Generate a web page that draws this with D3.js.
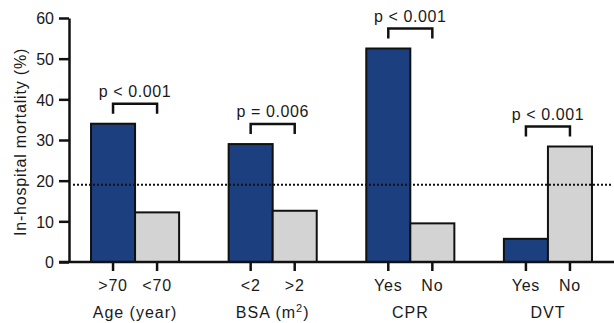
<!DOCTYPE html>
<html>
<head>
<meta charset="utf-8">
<script src="https://cdn.jsdelivr.net/npm/d3@7"></script>
<style>
  body { margin: 0; background: #fff; }
  text { font-family: "Liberation Sans", Arial, sans-serif; fill: #1a1a1a; }
</style>
</head>
<body>
<div id="chart"></div>
<script>
// data
const groups = ["Age (year)", "BSA (m2)", "CPR", "DVT"];
const subLabels = [[">70", "<70"], ["<2", ">2"], ["Yes", "No"], ["Yes", "No"]];
const firstValues = [34, 29, 52.5, 5.7];
const secondValues = [12.2, 12.6, 9.5, 28.4];
const pLabels = ["p < 0.001", "p = 0.006", "p < 0.001", "p < 0.001"];
const yTicks = [0, 10, 20, 30, 40, 50, 60];
const overallMortality = 19;

const width = 614, height = 323;
const axisX = 69, axisY = 262, topY = 18;

const svg = d3.select("#chart").append("svg")
    .attr("width", width)
    .attr("height", height)

// scales
const y = d3.scaleLinear().domain([0, 60]).range([axisY, topY]);
const xGroup = d3.scaleBand()
    .domain(groups)
    .range([axisX, width])
    .paddingInner(0.36)
    .paddingOuter(0.16);
const xSub = d3.scaleBand()
    .domain([0, 1])
    .range([0, xGroup.bandwidth()]);

const colors = ["#1c3f80", "#d3d3d3"];

// rows for every bar
const bars = [];
groups.forEach(function (g, i) {
    bars.push({ group: g, k: 0, label: subLabels[i][0], value: firstValues[i] });
    bars.push({ group: g, k: 1, label: subLabels[i][1], value: secondValues[i] });
});
const barCenter = d => xGroup(d.group) + xSub(d.k) + xSub.bandwidth() / 2;

// bars
svg.append("g").selectAll("rect")
    .data(bars)
    .enter().append("rect")
    .attr("x", d => xGroup(d.group) + xSub(d.k))
    .attr("y", d => y(d.value))
    .attr("width", xSub.bandwidth())
    .attr("height", d => y(0) - y(d.value))
    .attr("fill", d => colors[d.k])
    .attr("stroke", "#111")
    .attr("stroke-width", 2)

// overall mortality dotted line
svg.append("line")
    .attr("x1", axisX + 4)
    .attr("x2", width - 2)
    .attr("y1", y(overallMortality))
    .attr("y2", y(overallMortality))
    .attr("stroke", "#111")
    .attr("stroke-width", 2)
    .attr("stroke-dasharray", "2,2")

// y axis
const yAxis = d3.axisLeft(y)
    .tickValues(yTicks)
    .tickSize(10)
    .tickPadding(5)
    .tickSizeOuter(0);

const gy = svg.append("g")
    .attr("transform", "translate(" + axisX + ",0)")
    .call(yAxis)
gy.select(".domain").attr("stroke", "#111").attr("stroke-width", 2.5)
gy.selectAll(".tick line").attr("stroke", "#111").attr("stroke-width", 2.5)
gy.selectAll(".tick text")
    .attr("font-size", 16)
    .attr("dy", "0.36em")
    .style("font-family", "'Liberation Sans', Arial, sans-serif")
    .attr("fill", "#1a1a1a")

// x axis line
svg.append("line")
    .attr("x1", axisX - 10)
    .attr("x2", width)
    .attr("y1", axisY)
    .attr("y2", axisY)
    .attr("stroke", "#111")
    .attr("stroke-width", 2.5)

// x ticks and labels under each bar
const xt = svg.append("g").selectAll("g")
    .data(bars)
    .enter().append("g")
    .attr("transform", d => "translate(" + barCenter(d) + "," + axisY + ")")
xt.append("line")
    .attr("y1", 0)
    .attr("y2", 9)
    .attr("stroke", "#111")
    .attr("stroke-width", 2.5)
xt.append("text")
    .attr("y", 29)
    .attr("text-anchor", "middle")
    .attr("font-size", 16)
    .attr("letter-spacing", 0.8)
    .text(d => d.label)

// group titles
const gt = svg.append("g").selectAll("text")
    .data(groups)
    .enter().append("text")
    .attr("x", d => xGroup(d) + xGroup.bandwidth() / 2)
    .attr("y", 318)
    .attr("text-anchor", "middle")
    .attr("font-size", 16)
    .attr("letter-spacing", 1)
gt.each(function (d) {
    const t = d3.select(this);
    if (d === "BSA (m2)") {
        t.append("tspan").text("BSA (m");
        t.append("tspan").attr("font-size", 11).attr("dy", -6).text("2");
        t.append("tspan").attr("dy", 6).text(")");
    } else {
        t.text(d);
    }
});

// significance brackets
groups.forEach(function (g, i) {
    const top = y(Math.max(firstValues[i], secondValues[i]));
    const legBottom = top - 10;
    const legTop = legBottom - 10;
    const x1 = barCenter({ group: g, k: 0 });
    const x2 = barCenter({ group: g, k: 1 });
    svg.append("path")
        .attr("d", "M" + x1 + "," + legBottom + "V" + legTop + "H" + x2 + "V" + legBottom)
        .attr("fill", "none")
        .attr("stroke", "#111")
        .attr("stroke-width", 2.5)
    svg.append("text")
        .attr("x", (x1 + x2) / 2)
        .attr("y", legTop - 7)
        .attr("text-anchor", "middle")
        .attr("font-size", 16)
        .attr("letter-spacing", 0.6)
        .text(pLabels[i])
});

// y axis title
svg.append("text")
    .attr("transform", "translate(26," + ((axisY + topY) / 2 + 2) + ") rotate(-90)")
    .attr("text-anchor", "middle")
    .attr("font-size", 16)
    .attr("letter-spacing", 0.8)
    .text("In-hospital mortality (%)")
</script>
</body>
</html>
